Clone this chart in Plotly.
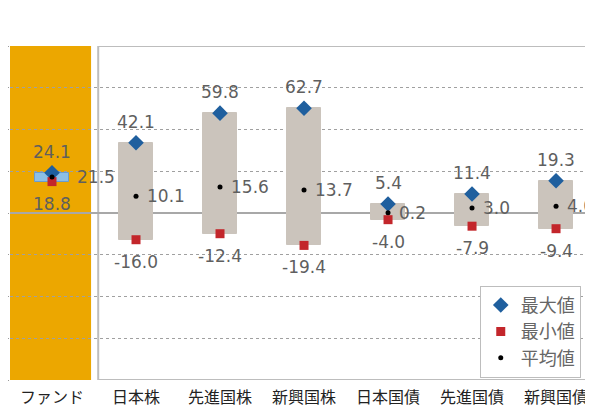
import plotly.graph_objects as go

categories = ["ファンド", "日本株", "先進国株", "新興国株", "日本国債", "先進国債", "新興国債"]
max_vals = [24.1, 42.1, 59.8, 62.7, 5.4, 11.4, 19.3]
min_vals = [18.8, -16.0, -12.4, -19.4, -4.0, -7.9, -9.4]
mean_vals = [21.5, 10.1, 15.6, 13.7, 0.2, 3.0, 4.0]
y_ticks = [-100, -75, -50, -25, 0, 25, 50, 75, 100]

idx = list(range(len(categories)))
box_colors = ["#8cbfe6"] + ["#cbc4bc"] * (len(categories) - 1)
box_lines = ["#6a9ccc"] + ["#cbc4bc"] * (len(categories) - 1)

num_font = dict(family="DejaVu Sans", size=17, color="#5f5f5f")
cjk = "Noto Sans CJK JP"

fig = go.Figure()

fig.add_trace(go.Bar(
    x=idx, y=[mx - mn for mx, mn in zip(max_vals, min_vals)], base=min_vals,
    width=0.4, marker=dict(color=box_colors, line=dict(color=box_lines, width=1)),
    showlegend=False, hoverinfo="skip"))

fig.add_trace(go.Scatter(
    x=idx, y=max_vals, mode="markers", name="最大値",
    marker=dict(symbol="diamond", size=12, color="#1f5f9e")))
fig.add_trace(go.Scatter(
    x=idx, y=min_vals, mode="markers", name="最小値",
    marker=dict(symbol="square", size=9, color="#c3262b")))
fig.add_trace(go.Scatter(
    x=idx, y=mean_vals, mode="markers", name="平均値",
    marker=dict(symbol="circle", size=5, color="#000000")))

annotations = []
for i, (mx, mn, mv) in enumerate(zip(max_vals, min_vals, mean_vals)):
    annotations.append(dict(x=i, y=mx, text=f"{mx:.1f}", showarrow=False,
                            yshift=21, font=num_font))
    annotations.append(dict(x=i, y=mn, text=f"{mn:.1f}", showarrow=False,
                            yshift=-22, font=num_font))
    annotations.append(dict(x=i, y=mv, text=f"{mv:.1f}", showarrow=False,
                            xanchor="left", xshift=23 if i == 0 else 9,
                            font=num_font))

shapes = [
    dict(type="rect", xref="x", yref="y", x0=-0.5, x1=0.465, y0=-100, y1=100,
         fillcolor="#eca700", line=dict(width=0), layer="below"),
    dict(type="rect", xref="x", yref="y", x0=0.55, x1=7, y0=-100, y1=100,
         fillcolor="rgba(0,0,0,0)", line=dict(color="#bdbdbd", width=2), layer="below"),
]

fig.update_layout(
    width=585, height=399,
    margin=dict(l=2, r=0, t=38, b=27, autoexpand=False),
    paper_bgcolor="white", plot_bgcolor="white",
    shapes=shapes, annotations=annotations,
    bargap=0,
    xaxis=dict(range=[-0.5, 6.44], tickmode="array", tickvals=idx, ticktext=categories,
               showgrid=False, zeroline=False, showline=False, ticks="",
               ticklabelstandoff=6,
               tickfont=dict(family=cjk, size=16, color="#222222"), fixedrange=True),
    yaxis=dict(range=[-100, 100], tickmode="array", tickvals=y_ticks,
               showticklabels=False, ticks="outside", ticklen=6, tickcolor="#9a9a9a",
               showgrid=True, gridcolor="#a0a0a0", griddash="3px,3px", gridwidth=1,
               zeroline=True, zerolinecolor="#a8a8a8", zerolinewidth=2,
               showline=False),
    legend=dict(x=0.979, y=0.282, xanchor="right", yanchor="top",
                bgcolor="white", bordercolor="#bdbdbd", borderwidth=1,
                font=dict(family=cjk, size=18, color="#666666"),
                itemwidth=30, tracegroupgap=0),
    showlegend=True,
)

fig.write_html("out.html")
